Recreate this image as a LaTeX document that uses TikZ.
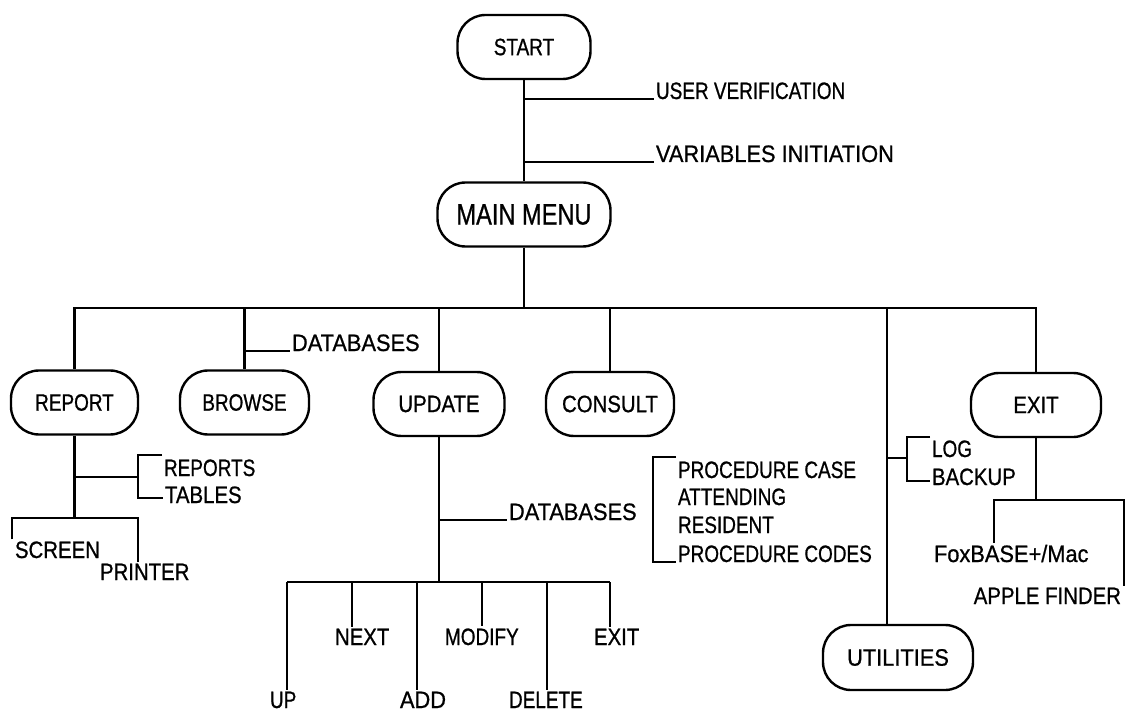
\documentclass[tikz,border=0pt]{standalone}
\usepackage{fontspec}
% Helvetica-like lettering, set tight and slightly heavy as on the chart
\newfontfamily\fnA[FakeStretch=0.80,FakeBold=0.8]{Liberation Sans}
\newfontfamily\fnB[FakeStretch=0.86,FakeBold=0.8]{Liberation Sans}
\newfontfamily\fnC[FakeStretch=0.92,FakeBold=0.8]{Liberation Sans}
\newcommand\lsize{\fontsize{23.7}{28}\selectfont}
\begin{document}
\begin{tikzpicture}[x=1pt,y=-1pt,line width=2.2pt,
  tA/.style={font=\fnA\lsize},
  tB/.style={font=\fnB\lsize},
  tC/.style={font=\fnC\lsize},
  tM/.style={font=\fnA\fontsize{29.5}{34}\selectfont},
  pill/.style={draw,line width=2.4pt,rounded corners=28pt,minimum height=64pt,inner sep=0pt},
  lbl/.style={inner sep=0pt,outer sep=2pt}]
\fill[white] (0,0) rectangle (1127,711);
\useasboundingbox (0,0) rectangle (1127,711);

% ---- terminals / modules
\node[pill,tA,minimum width=133pt] (start) at (524,47) {START};
\node[pill,tM,minimum width=173pt] (main) at (524,214.5) {MAIN MENU};
\node[pill,tA,minimum width=127pt] (report) at (74.5,402.5) {REPORT};
\node[pill,tA,minimum width=129pt] (browse) at (244.5,402.5) {BROWSE};
\node[pill,tB,minimum width=131pt] (update) at (439,404) {UPDATE};
\node[pill,tB,minimum width=128pt] (consult) at (610,404) {CONSULT};
\node[pill,tB,minimum width=130pt] (exit) at (1036,405) {EXIT};
\node[pill,tC,minimum width=150pt,minimum height=65pt] (util) at (898,657.5) {UTILITIES};

% ---- start -> main menu, with its two steps
\draw (start.south) -- (main.north);
\node[lbl,tA,anchor=base west] (uv) at (654,99) {USER VERIFICATION};
\node[lbl,tC,anchor=base west] (vi) at (654,162) {VARIABLES INITIATION};
\coordinate (uvj) at (524,99);
\coordinate (vij) at (524,162);
\draw (uvj) -- (uv.base west);
\draw (vij) -- (vi.base west);

% ---- main menu bus
\coordinate (bus) at (0,308);
\draw (main.south) -- (main.south |- bus);
\draw (report.north) -- (report.north |- bus) -- (exit.north |- bus) -- (exit.north);
\draw (browse.north) -- (browse.north |- bus);
\draw (update.north) -- (update.north |- bus);
\draw (consult.north) -- (consult.north |- bus);
\coordinate (ut) at ([xshift=-11pt]util.north);
\draw (ut) -- (ut |- bus);

% ---- browse
\node[lbl,tC,anchor=base west] (bdb) at (290,351) {DATABASES};
\coordinate (bdj) at (browse.north |- bdb.base west);
\draw (bdj) -- (bdb.base west);

% ---- report
\node[lbl,tA,anchor=base west] (reports) at (162,476) {REPORTS};
\node[lbl,tB,anchor=base west] (tables) at (163,503) {TABLES};
\coordinate (rj) at (74.5,477);
\coordinate (rbt) at (138,455);
\coordinate (rbb) at (138,498);
\draw (rj) -- (rj -| rbt);
\draw (rbt -| reports.west) -- (rbt) -- (rbb) -- (rbb -| tables.west);
\node[lbl,tB,anchor=base west] (screen) at (13,558) {SCREEN};
\node[lbl,tB,anchor=base west] (printer) at (98,580) {PRINTER};
\coordinate (rsb) at (0,518);
\coordinate (sl) at (12,518);
\coordinate (sr) at (138,518);
\draw (report.south) -- (report.south |- rsb);
\draw (sl |- screen.north) -- (sl) -- (sr) -- (sr |- printer.north);

% ---- update
\node[lbl,tC,anchor=base west] (udb) at (507,520) {DATABASES};
\coordinate (udj) at (update.south |- udb.base west);
\draw (udj) -- (udb.base west);
\coordinate (ubus) at (0,582);
\draw (update.south) -- (update.south |- ubus);
\coordinate (d1) at (287,582);
\coordinate (d2) at (352,582);
\coordinate (d3) at (417,582);
\coordinate (d4) at (482,582);
\coordinate (d5) at (547,582);
\coordinate (d6) at (610,582);
\draw (d1) -- (d6);
\node[lbl,tA,anchor=base west] (up) at (268,708) {UP};
\node[lbl,tB,anchor=base west] (next) at (333,645) {NEXT};
\node[lbl,tC,anchor=base west] (add) at (398,708) {ADD};
\node[lbl,tA,anchor=base west] (modify) at (443,645) {MODIFY};
\node[lbl,tA,anchor=base west] (delete) at (507,708) {DELETE};
\node[lbl,tB,anchor=base west] (uexit) at (592,645) {EXIT};
\draw (d1) -- (d1 |- up.north);
\draw (d2) -- (d2 |- next.north);
\draw (d3) -- (d3 |- add.north);
\draw (d4) -- (d4 |- modify.north);
\draw (d5) -- (d5 |- delete.north);
\draw (d6) -- (d6 |- uexit.north);

% ---- consult tables
\node[lbl,tA,anchor=base west] (pcase) at (676,478) {PROCEDURE CASE};
\node[lbl,tA,anchor=base west] (att) at (676,505) {ATTENDING};
\node[lbl,tA,anchor=base west] (res) at (676,533) {RESIDENT};
\node[lbl,tA,anchor=base west] (pcodes) at (676,562) {PROCEDURE CODES};
\coordinate (cbt) at (653,457);
\coordinate (cbb) at (653,562);
\draw (cbt -| pcase.west) -- (cbt) -- (cbb) -- (pcodes.base west);

% ---- utilities
\node[lbl,tA,anchor=base west] (log) at (930,457) {LOG};
\node[lbl,tB,anchor=base west] (backup) at (930,485) {BACKUP};
\coordinate (lj) at (887,458);
\coordinate (lbt) at (907,437);
\coordinate (lbb) at (907,481);
\draw (lj) -- (lj -| lbt);
\draw (lbt -| log.west) -- (lbt) -- (lbb) -- (lbb -| backup.west);

% ---- exit
\node[lbl,tC,anchor=base west] (fox) at (932,562) {FoxBASE+/Mac};
\node[lbl,tB,anchor=base east] (finder) at (1123,604) {APPLE FINDER};
\coordinate (ebus) at (0,500);
\coordinate (el) at (994,500);
\coordinate (er) at (1124,500);
\draw (exit.south) -- (exit.south |- ebus);
\draw (el |- fox.north) -- (el) -- (er) -- (er |- finder.north);
\end{tikzpicture}
\end{document}
